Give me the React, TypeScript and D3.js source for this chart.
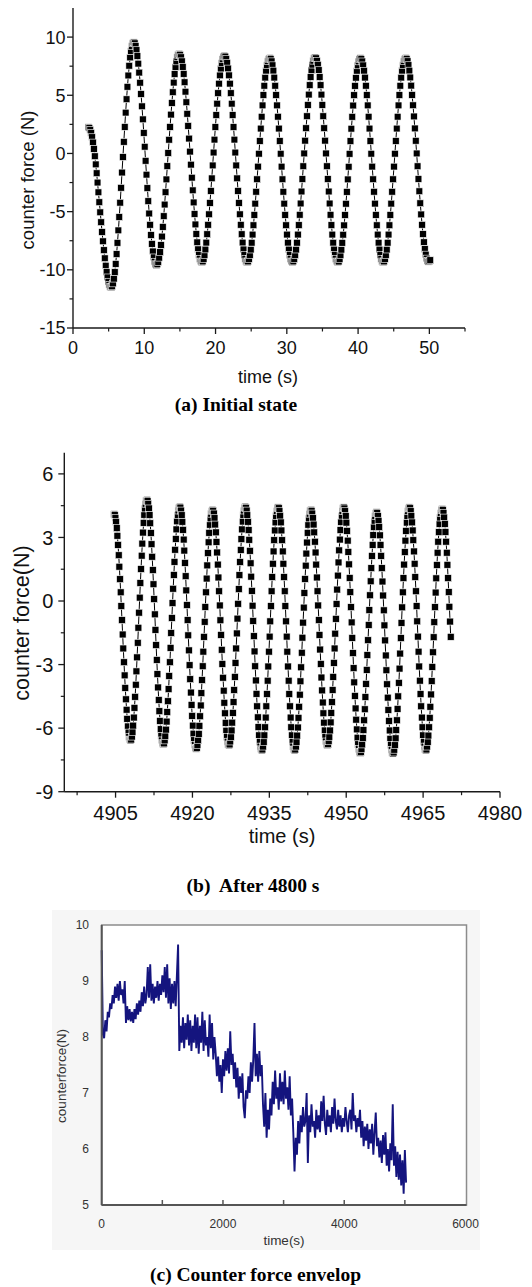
import React from "react";
import * as d3 from "d3";

// ---------- Panel (a): initial state ----------
const A_START = 2.17;
const A_STEP = 0.1272;
const A_FORCE = [
  2.25, 2.2, 2.03, 1.77, 1.4, 0.94, 0.39, -0.24, -0.94, -1.7, -2.5, -3.34, -4.19, -5.06, -5.91, -6.75, -7.55, -8.31, -9.01, -9.64, -10.19, -10.65, -11.02, -11.28, -11.45, -11.5,
  -11.42, -11.17, -10.76, -10.2, -9.49, -8.65, -7.68, -6.61, -5.46, -4.23, -2.95, -1.64, -0.31, 1.0, 2.28, 3.51, 4.66, 5.73, 6.7, 7.54, 8.25, 8.81, 9.22, 9.47, 9.55,
  9.47, 9.25, 8.88, 8.37, 7.72, 6.95, 6.08, 5.11, 4.05, 2.93, 1.77, 0.58, -0.63, -1.82, -2.98, -4.1, -5.16, -6.13, -7.01, -7.77, -8.42, -8.93, -9.3, -9.52, -9.6,
  -9.53, -9.32, -8.96, -8.48, -7.87, -7.14, -6.31, -5.39, -4.39, -3.33, -2.23, -1.09, 0.04, 1.18, 2.28, 3.34, 4.34, 5.26, 6.09, 6.82, 7.43, 7.91, 8.27, 8.48, 8.55,
  8.48, 8.27, 7.92, 7.44, 6.84, 6.12, 5.31, 4.4, 3.41, 2.37, 1.28, 0.16, -0.96, -2.08, -3.17, -4.21, -5.2, -6.1, -6.92, -7.64, -8.24, -8.72, -9.07, -9.28, -9.35,
  -9.28, -9.07, -8.73, -8.25, -7.66, -6.94, -6.13, -5.23, -4.25, -3.22, -2.14, -1.03, 0.08, 1.19, 2.27, 3.3, 4.28, 5.18, 6.0, 6.71, 7.3, 7.78, 8.12, 8.33, 8.4,
  8.33, 8.12, 7.78, 7.3, 6.71, 6.0, 5.18, 4.28, 3.3, 2.27, 1.19, 0.08, -1.03, -2.14, -3.22, -4.25, -5.23, -6.13, -6.94, -7.66, -8.25, -8.73, -9.07, -9.28, -9.35,
  -9.28, -9.07, -8.73, -8.26, -7.67, -6.97, -6.17, -5.28, -4.31, -3.29, -2.22, -1.13, -0.02, 1.07, 2.14, 3.16, 4.13, 5.02, 5.82, 6.52, 7.12, 7.58, 7.92, 8.13, 8.2,
  8.13, 7.92, 7.58, 7.12, 6.52, 5.82, 5.02, 4.13, 3.16, 2.14, 1.07, -0.02, -1.13, -2.22, -3.29, -4.31, -5.28, -6.17, -6.97, -7.67, -8.26, -8.73, -9.07, -9.28, -9.35,
  -9.28, -9.07, -8.73, -8.26, -7.67, -6.97, -6.16, -5.27, -4.3, -3.27, -2.2, -1.1, 0.0, 1.1, 2.17, 3.2, 4.17, 5.06, 5.87, 6.57, 7.16, 7.63, 7.97, 8.18, 8.25,
  8.18, 7.97, 7.63, 7.16, 6.57, 5.87, 5.06, 4.17, 3.2, 2.17, 1.1, 0.0, -1.1, -2.2, -3.27, -4.3, -5.27, -6.16, -6.97, -7.67, -8.26, -8.73, -9.07, -9.28, -9.35,
  -9.29, -9.08, -8.74, -8.27, -7.68, -6.98, -6.18, -5.29, -4.32, -3.3, -2.23, -1.14, -0.03, 1.06, 2.13, 3.15, 4.12, 5.01, 5.81, 6.51, 7.11, 7.57, 7.91, 8.12, 8.19,
  8.12, 7.91, 7.57, 7.11, 6.52, 5.82, 5.02, 4.13, 3.16, 2.14, 1.07, -0.02, -1.13, -2.22, -3.29, -4.31, -5.28, -6.17, -6.97, -7.67, -8.26, -8.73, -9.07, -9.28, -9.35,
  -9.28, -9.07, -8.73, -8.26, -7.67, -6.97, -6.17, -5.28, -4.31, -3.29, -2.22, -1.13, -0.02, 1.07, 2.14, 3.16, 4.13, 5.02, 5.82, 6.52, 7.12, 7.58, 7.92, 8.13, 8.2,
  8.13, 7.93, 7.59, 7.12, 6.53, 5.83, 5.03, 4.14, 3.18, 2.15, 1.09, 0.0, -1.1, -2.19, -3.25, -4.28, -5.24, -6.13, -6.93, -7.63, -8.22, -8.69, -9.03, -9.23, -9.3,
  -9.26, -9.17,
];
const A_X_MAJOR = [0, 10, 20, 30, 40, 50];
const A_X_MINOR = [5, 15, 25, 35, 45, 55];
const A_Y_MAJOR = [-15, -10, -5, 0, 5, 10];
const A_Y_MINOR = [-12.5, -7.5, -2.5, 2.5, 7.5];

// ---------- Panel (b): after 4800 s ----------
const B_START = 4904.72;
const B_STEP = 0.128;
const B_FORCE = [
  4.1, 4.06, 3.93, 3.73, 3.44, 3.08, 2.65, 2.16, 1.62, 1.03, 0.41, -0.24, -0.9, -1.58, -2.24, -2.89, -3.51, -4.1, -4.64, -5.13, -5.56, -5.92, -6.21, -6.41, -6.54, -6.58,
  -6.54, -6.4, -6.18, -5.88, -5.5, -5.04, -4.52, -3.95, -3.32, -2.66, -1.97, -1.26, -0.55, 0.16, 0.85, 1.51, 2.14, 2.71, 3.23, 3.69, 4.07, 4.37, 4.59, 4.73, 4.77,
  4.72, 4.59, 4.37, 4.06, 3.67, 3.21, 2.68, 2.09, 1.46, 0.79, 0.09, -0.63, -1.36, -2.08, -2.78, -3.45, -4.08, -4.67, -5.2, -5.66, -6.05, -6.36, -6.58, -6.71, -6.76,
  -6.72, -6.58, -6.37, -6.07, -5.69, -5.24, -4.73, -4.16, -3.54, -2.89, -2.21, -1.51, -0.8, -0.1, 0.58, 1.23, 1.85, 2.42, 2.93, 3.38, 3.76, 4.06, 4.27, 4.41, 4.45,
  4.41, 4.27, 4.05, 3.74, 3.36, 2.9, 2.38, 1.8, 1.17, 0.5, -0.19, -0.9, -1.62, -2.33, -3.03, -3.69, -4.32, -4.9, -5.42, -5.88, -6.26, -6.57, -6.79, -6.93, -6.97,
  -6.93, -6.79, -6.57, -6.27, -5.89, -5.44, -4.93, -4.35, -3.73, -3.08, -2.39, -1.69, -0.98, -0.28, 0.41, 1.06, 1.68, 2.26, 2.77, 3.22, 3.6, 3.9, 4.12, 4.26, 4.3,
  4.26, 4.13, 3.91, 3.61, 3.24, 2.79, 2.29, 1.72, 1.11, 0.46, -0.21, -0.91, -1.6, -2.3, -2.97, -3.62, -4.23, -4.8, -5.3, -5.75, -6.12, -6.42, -6.64, -6.77, -6.81,
  -6.77, -6.63, -6.42, -6.11, -5.74, -5.28, -4.77, -4.2, -3.58, -2.92, -2.24, -1.53, -0.83, -0.13, 0.56, 1.22, 1.84, 2.41, 2.92, 3.38, 3.75, 4.06, 4.27, 4.41, 4.45,
  4.4, 4.27, 4.05, 3.74, 3.35, 2.89, 2.37, 1.78, 1.15, 0.48, -0.22, -0.94, -1.66, -2.38, -3.08, -3.75, -4.38, -4.97, -5.49, -5.95, -6.34, -6.65, -6.87, -7.0, -7.05,
  -7.01, -6.87, -6.65, -6.34, -5.96, -5.5, -4.97, -4.39, -3.76, -3.09, -2.39, -1.68, -0.96, -0.24, 0.46, 1.13, 1.76, 2.34, 2.87, 3.33, 3.71, 4.02, 4.24, 4.38, 4.42,
  4.38, 4.24, 4.02, 3.71, 3.33, 2.87, 2.34, 1.76, 1.13, 0.46, -0.24, -0.96, -1.68, -2.39, -3.09, -3.76, -4.39, -4.97, -5.5, -5.96, -6.34, -6.65, -6.87, -7.01, -7.05,
  -7.01, -6.87, -6.65, -6.35, -5.97, -5.51, -4.99, -4.42, -3.79, -3.13, -2.44, -1.73, -1.02, -0.31, 0.38, 1.04, 1.67, 2.24, 2.76, 3.22, 3.6, 3.9, 4.12, 4.26, 4.3,
  4.26, 4.13, 3.91, 3.61, 3.24, 2.8, 2.29, 1.72, 1.11, 0.46, -0.21, -0.9, -1.6, -2.29, -2.97, -3.61, -4.22, -4.79, -5.3, -5.74, -6.11, -6.41, -6.63, -6.76, -6.8,
  -6.76, -6.62, -6.41, -6.11, -5.73, -5.28, -4.77, -4.2, -3.58, -2.92, -2.24, -1.54, -0.84, -0.14, 0.54, 1.2, 1.82, 2.39, 2.9, 3.35, 3.73, 4.03, 4.24, 4.38, 4.42,
  4.37, 4.24, 4.01, 3.7, 3.31, 2.85, 2.32, 1.73, 1.09, 0.42, -0.29, -1.01, -1.74, -2.46, -3.17, -3.84, -4.48, -5.07, -5.6, -6.06, -6.45, -6.76, -6.99, -7.12, -7.17,
  -7.13, -6.99, -6.77, -6.47, -6.09, -5.63, -5.11, -4.53, -3.91, -3.25, -2.55, -1.85, -1.13, -0.43, 0.27, 0.93, 1.55, 2.13, 2.65, 3.11, 3.49, 3.79, 4.01, 4.15, 4.19,
  4.15, 4.01, 3.79, 3.49, 3.1, 2.65, 2.13, 1.55, 0.92, 0.26, -0.44, -1.15, -1.86, -2.57, -3.27, -3.93, -4.56, -5.14, -5.66, -6.11, -6.5, -6.8, -7.02, -7.16, -7.2,
  -7.15, -7.02, -6.79, -6.48, -6.09, -5.63, -5.09, -4.5, -3.86, -3.19, -2.48, -1.75, -1.03, -0.3, 0.41, 1.08, 1.72, 2.31, 2.85, 3.31, 3.7, 4.01, 4.24, 4.37, 4.42,
  4.38, 4.24, 4.02, 3.71, 3.33, 2.87, 2.34, 1.76, 1.13, 0.46, -0.24, -0.96, -1.68, -2.39, -3.09, -3.76, -4.39, -4.97, -5.5, -5.96, -6.34, -6.65, -6.87, -7.01, -7.05,
  -7.01, -6.87, -6.65, -6.35, -5.96, -5.51, -4.99, -4.41, -3.78, -3.11, -2.42, -1.71, -1.0, -0.29, 0.4, 1.07, 1.7, 2.28, 2.8, 3.25, 3.64, 3.94, 4.16, 4.3, 4.34,
  4.3, 4.16, 3.94, 3.64, 3.26, 2.8, 2.28, 1.71, 1.08, 0.42, -0.27, -0.97, -1.69,
];
const B_X_MAJOR = [4905, 4920, 4935, 4950, 4965, 4980];
const B_X_MINOR = [4897.5, 4912.5, 4927.5, 4942.5, 4957.5, 4972.5];
const B_Y_MAJOR = [-9, -6, -3, 0, 3, 6];
const B_Y_MINOR = [-7.5, -4.5, -1.5, 1.5, 4.5];

// ---------- Panel (c): counter force envelope ----------
const C_START = 0;
const C_STEP = 20;
const C_FORCE = [
  9.55, 8.05, 7.98, 8.3, 8.1, 8.45, 8.35, 8.6, 8.5, 8.75,
  8.6, 8.9, 8.7, 8.95, 8.65, 9.0, 8.75, 8.85, 8.6, 9.0,
  8.25, 8.55, 8.3, 8.5, 8.28, 8.45, 8.25, 8.5, 8.32, 8.6,
  8.4, 8.65, 8.45, 8.8, 8.55, 8.9, 8.6, 8.75, 9.25, 8.7,
  9.3, 8.65, 8.95, 8.6, 8.9, 8.7, 9.0, 8.65, 8.95, 8.75,
  9.1, 8.8, 9.25, 8.7, 9.3, 8.6, 9.05, 8.5, 8.95, 8.6,
  9.0, 8.55, 9.1, 9.65, 7.75, 8.2, 7.9, 8.35, 7.8, 8.25,
  7.95, 8.4, 7.85, 8.3, 7.75, 8.2, 7.9, 8.4, 7.8, 8.35,
  7.7, 8.2, 7.9, 8.45, 7.75, 8.3, 7.85, 8.0, 7.65, 8.4,
  7.8, 8.25, 7.6, 8.0, 7.7, 7.3, 7.65, 7.2, 7.5, 7.0,
  7.6, 7.3, 7.75, 7.4, 7.8, 7.35, 8.1, 7.5, 7.7, 7.25,
  7.55, 7.1, 7.45, 6.9, 7.3, 7.0, 7.35, 6.75, 6.55, 7.05,
  6.9, 7.3, 7.0, 7.55, 7.2, 7.6, 8.25, 7.3, 7.7, 7.2,
  7.75, 7.3, 7.5, 6.8, 6.4, 7.0, 6.2, 6.7, 6.35, 6.9,
  6.6, 7.2, 6.8, 7.4, 6.9, 7.1, 6.7, 7.35, 6.85, 7.2,
  6.8, 7.4, 6.9, 7.1, 6.7, 7.3, 6.6, 6.9, 6.3, 5.6,
  6.2, 5.9, 6.5, 6.1, 6.6, 6.3, 6.75, 6.4, 6.5, 7.0,
  5.75, 6.6, 6.3, 6.8, 6.4, 6.5, 6.2, 6.7, 6.35, 6.6,
  6.3, 6.85, 6.5, 6.95, 6.45, 6.25, 6.7, 6.4, 6.6, 6.3,
  6.75, 6.45, 6.9, 6.5, 6.35, 6.7, 6.4, 6.6, 6.3, 6.55,
  6.4, 6.75, 6.5, 6.3, 6.6, 6.7, 6.35, 7.0, 6.5, 6.6,
  6.3, 6.55, 6.4, 6.7, 6.2, 6.5, 6.05, 6.4, 6.15, 6.45,
  6.0, 6.35, 6.1, 6.45, 5.9, 6.3, 6.65, 6.05, 6.2, 5.85,
  6.15, 5.75, 6.25, 5.9, 6.3, 5.7, 6.0, 5.6, 6.1, 5.8,
  6.8, 5.7, 6.05, 5.5, 5.95, 5.45, 5.9, 5.35, 5.8, 5.2,
  5.98, 5.4,
];
const C_X_LABELS = [0, 2000, 4000, 6000];
const C_X_TICKS = [1000, 2000, 3000, 4000, 5000];
const C_Y_LABELS = [5, 6, 7, 8, 9, 10];

const SANS = "'Liberation Sans', Arial, Helvetica, sans-serif";
const SERIF = "'Liberation Serif', 'Times New Roman', Times, serif";

type OriginProps = {
  values: number[];
  start: number;
  step: number;
  xDomain: [number, number];
  yDomain: [number, number];
  box: { left: number; right: number; top: number; bottom: number };
  xMajor: number[];
  xMinor: number[];
  yMajor: number[];
  yMinor: number[];
  tickFont: number;
  labelFont: number;
  yLabelFont: number;
  yLabel: string;
  yLabelPos: [number, number];
  xLabel: string;
  xLabelPos: [number, number];
  xTickBaseline: number;
  yTickGap: number;
  markerSize: number;
};

function OriginPanel(p: OriginProps) {
  const { left, right, top, bottom } = p.box;
  const x = d3.scaleLinear().domain(p.xDomain).range([left, right]);
  const y = d3.scaleLinear().domain(p.yDomain).range([bottom, top]);
  const pts: [number, number][] = p.values.map((v, i) => [p.start + i * p.step, v]);
  const path = d3
    .line<[number, number]>()
    .x((d) => x(d[0]))
    .y((d) => y(d[1]))(pts) as string;
  const ms = p.markerSize;
  const axisColor = "#1a1a1a";
  return (
    <g>
      <path d={path} fill="none" stroke="#000" strokeWidth={1} />
      {pts.map((d, i) => (
        <rect
          key={i}
          x={x(d[0]) - ms / 2}
          y={y(d[1]) - ms / 2}
          width={ms}
          height={ms}
          fill="#000"
          stroke="#fff"
          strokeWidth={0.6}
        />
      ))}
      {/* axes */}
      <line x1={left} x2={left} y1={top} y2={bottom} stroke={axisColor} strokeWidth={1.4} />
      <line x1={left} x2={right} y1={bottom} y2={bottom} stroke={axisColor} strokeWidth={1.4} />
      {p.xMajor.map((t) => (
        <g key={"xM" + t}>
          <line x1={x(t)} x2={x(t)} y1={bottom} y2={bottom + 6} stroke={axisColor} strokeWidth={1.3} />
          <text
            x={x(t)}
            y={bottom + p.xTickBaseline}
            textAnchor="middle"
            fontFamily={SANS}
            fontSize={p.tickFont}
            fill="#111"
          >
            {t}
          </text>
        </g>
      ))}
      {p.xMinor.map((t) => (
        <line key={"xm" + t} x1={x(t)} x2={x(t)} y1={bottom} y2={bottom + 3.5} stroke={axisColor} strokeWidth={1.2} />
      ))}
      {p.yMajor.map((t) => (
        <g key={"yM" + t}>
          <line x1={left - 6} x2={left} y1={y(t)} y2={y(t)} stroke={axisColor} strokeWidth={1.3} />
          <text
            x={left - p.yTickGap}
            y={y(t)}
            dy="0.36em"
            textAnchor="end"
            fontFamily={SANS}
            fontSize={p.tickFont}
            fill="#111"
          >
            {t}
          </text>
        </g>
      ))}
      {p.yMinor.map((t) => (
        <line key={"ym" + t} x1={left - 3.5} x2={left} y1={y(t)} y2={y(t)} stroke={axisColor} strokeWidth={1.2} />
      ))}
      <text
        transform={`translate(${p.yLabelPos[0]},${p.yLabelPos[1]}) rotate(-90)`}
        textAnchor="middle"
        dy="0.35em"
        fontFamily={SANS}
        fontSize={p.yLabelFont}
        fill="#111"
      >
        {p.yLabel}
      </text>
      <text
        x={p.xLabelPos[0]}
        y={p.xLabelPos[1]}
        textAnchor="middle"
        fontFamily={SANS}
        fontSize={p.labelFont}
        fill="#111"
      >
        {p.xLabel}
      </text>
    </g>
  );
}

function EnvelopePanel() {
  const left = 101.7;
  const right = 466.5;
  const top = 925;
  const bottom = 1205;
  const x = d3.scaleLinear().domain([0, 6000]).range([left, 465.5]);
  const y = d3.scaleLinear().domain([5, 10]).range([bottom, top]);
  const pts: [number, number][] = C_FORCE.map((v, i) => [C_START + i * C_STEP, v]);
  const path = d3
    .line<[number, number]>()
    .x((d) => x(d[0]))
    .y((d) => y(d[1]))(pts) as string;
  return (
    <g>
      <rect x={52} y={910} width={428} height={340} fill="#f6f6f6" />
      <rect x={left} y={top} width={right - left} height={bottom - top} fill="#fff" stroke="#8c8c8c" strokeWidth={1.5} />
      <path d={path} fill="none" stroke="#14147e" strokeWidth={1.9} strokeLinejoin="miter" />
      <line x1={left} x2={left} y1={top} y2={bottom} stroke="#555" strokeWidth={2} />
      <line x1={left} x2={right} y1={bottom} y2={bottom} stroke="#555" strokeWidth={2} />
      {C_X_TICKS.map((t) => (
        <line key={"ct" + t} x1={x(t)} x2={x(t)} y1={bottom} y2={bottom - 5} stroke="#555" strokeWidth={1.5} />
      ))}
      {C_X_LABELS.map((t) => (
        <text key={"cx" + t} x={x(t)} y={1228} textAnchor="middle" fontFamily={SANS} fontSize={12} fill="#333">
          {t}
        </text>
      ))}
      {C_Y_LABELS.map((t) => (
        <text key={"cy" + t} x={89} y={y(t)} dy="0.36em" textAnchor="end" fontFamily={SANS} fontSize={12} fill="#333">
          {t}
        </text>
      ))}
      <text
        transform="translate(61,1076) rotate(-90)"
        textAnchor="middle"
        dy="0.35em"
        fontFamily={SANS}
        fontSize={13.5}
        fill="#333"
      >
        counterforce(N)
      </text>
      <text x={284} y={1245} textAnchor="middle" fontFamily={SANS} fontSize={13.5} fill="#333">
        time(s)
      </text>
    </g>
  );
}

export default function App() {
  return (
    <svg
      width={532}
      height={1287}
      viewBox="0 0 532 1287"
      style={{ position: "absolute", left: 0, top: 0, display: "block", background: "#fff" }}
    >
      <rect x={0} y={0} width={532} height={1287} fill="#fff" />
      <OriginPanel
        values={A_FORCE}
        start={A_START}
        step={A_STEP}
        xDomain={[0, 55]}
        yDomain={[-15, 12.5]}
        box={{ left: 73, right: 465, top: 8, bottom: 328 }}
        xMajor={A_X_MAJOR}
        xMinor={A_X_MINOR}
        yMajor={A_Y_MAJOR}
        yMinor={A_Y_MINOR}
        tickFont={18}
        labelFont={18}
        yLabelFont={18.5}
        yLabel="counter force (N)"
        yLabelPos={[28, 180]}
        xLabel="time (s)"
        xLabelPos={[268, 383]}
        xTickBaseline={26}
        yTickGap={7.5}
        markerSize={6.8}
      />
      <text x={236} y={411} textAnchor="middle" fontFamily={SERIF} fontWeight="bold" fontSize={19.5} fill="#000">
        (a) Initial state
      </text>
      <OriginPanel
        values={B_FORCE}
        start={B_START}
        step={B_STEP}
        xDomain={[4895, 4980]}
        yDomain={[-9, 7]}
        box={{ left: 64.3, right: 500, top: 452.7, bottom: 791.7 }}
        xMajor={B_X_MAJOR}
        xMinor={B_X_MINOR}
        yMajor={B_Y_MAJOR}
        yMinor={B_Y_MINOR}
        tickFont={20}
        labelFont={20}
        yLabelFont={21.5}
        yLabel="counter force(N)"
        yLabelPos={[21, 623]}
        xLabel="time (s)"
        xLabelPos={[282, 842.5]}
        xTickBaseline={28}
        yTickGap={11}
        markerSize={6.9}
      />
      <text x={253} y={892} textAnchor="middle" fontFamily={SERIF} fontWeight="bold" fontSize={19.5} fill="#000" xmlSpace="preserve">
        (b)  After 4800 s
      </text>
      <EnvelopePanel />
      <text x={255.5} y={1281} textAnchor="middle" fontFamily={SERIF} fontWeight="bold" fontSize={19.5} fill="#000">
        (c) Counter force envelop
      </text>
    </svg>
  );
}
